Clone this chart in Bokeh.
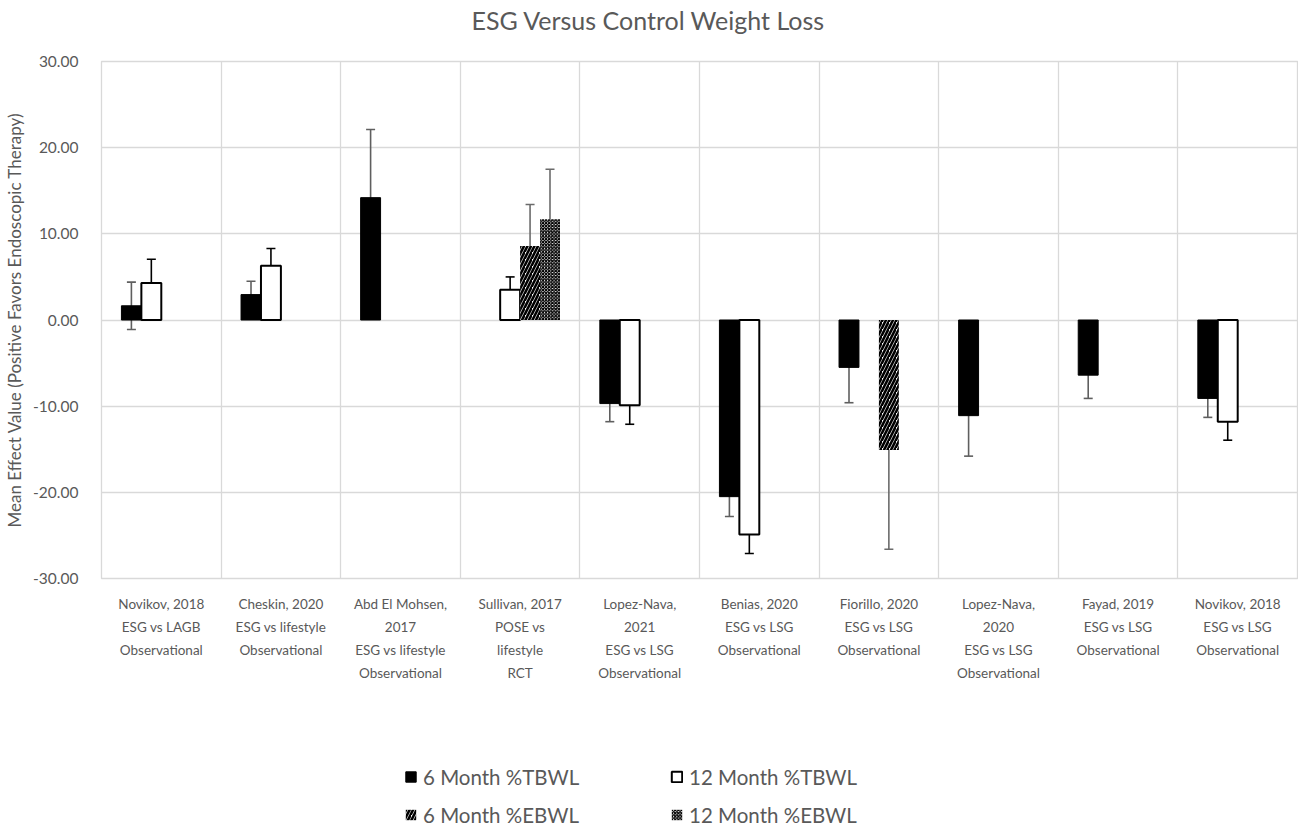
import numpy as np
from bokeh.plotting import figure
from bokeh.layouts import column
from bokeh.models import (Range1d, FixedTicker, NumeralTickFormatter, ColumnDataSource,
                          Whisker, TeeHead, Legend, LegendItem, Title)
from bokeh.embed import file_html
from bokeh.resources import INLINE

FONT = "Lato"
GRAY = "#595959"

categories = [
    "Novikov, 2018\nESG vs LAGB\nObservational",
    "Cheskin, 2020\nESG vs lifestyle\nObservational",
    "Abd El Mohsen,\n2017\nESG vs lifestyle\nObservational",
    "Sullivan, 2017\nPOSE vs\nlifestyle\nRCT",
    "Lopez-Nava,\n2021\nESG vs LSG\nObservational",
    "Benias, 2020\nESG vs LSG\nObservational",
    "Fiorillo, 2020\nESG vs LSG\nObservational",
    "Lopez-Nava,\n2020\nESG vs LSG\nObservational",
    "Fayad, 2019\nESG vs LSG\nObservational",
    "Novikov, 2018\nESG vs LSG\nObservational",
]

series_names = ["6 Month %TBWL", "12 Month %TBWL", "6 Month %EBWL", "12 Month %EBWL"]

tbwl_6 = [1.65, 2.95, 14.2, None, -9.7, -20.5, -5.5, -11.1, -6.4, -9.1]
tbwl_6_err = [2.75, 1.55, 7.9, None, 2.1, 2.3, 4.1, 4.7, 2.7, 2.2]
tbwl_12 = [4.3, 6.3, None, 3.5, -9.9, -24.9, None, None, None, -11.8]
tbwl_12_err = [2.75, 2.0, None, 1.5, 2.2, 2.2, None, None, None, 2.15]
ebwl_6 = [None, None, None, 8.6, None, None, -15.1, None, None, None]
ebwl_6_err = [None, None, None, 4.8, None, None, 11.5, None, None, None]
ebwl_12 = [None, None, None, 11.7, None, None, None, None, None, None]
ebwl_12_err = [None, None, None, 5.8, None, None, None, None, None, None]

values = [tbwl_6, tbwl_12, ebwl_6, ebwl_12]
errors = [tbwl_6_err, tbwl_12_err, ebwl_6_err, ebwl_12_err]
y_ticks = [-30, -20, -10, 0, 10, 20, 30]

n = len(categories)
bar_w = 1.0 / 6.0
offsets = [-1.5 * bar_w, -0.5 * bar_w, 0.5 * bar_w, 1.5 * bar_w]

W = 1298
p = figure(width=W, height=745, x_range=Range1d(0, n), y_range=Range1d(-30, 30),
           output_backend="svg", toolbar_location=None,
           min_border_left=101, min_border_right=1, min_border_top=61, min_border_bottom=167)

p.title.text = "ESG Versus Control Weight Loss"
p.title.text_font = FONT
p.title.text_font_size = "25px"
p.title.text_font_style = "normal"
p.title.text_color = GRAY
p.title.align = "left"
p.title.offset = 370
p.title.standoff = 0
# empty spacer between the title and the plot area
p.add_layout(Title(text=" ", text_font_size="14px", standoff=9), "above")

p.outline_line_color = "#d9d9d9"
p.outline_line_width = 1.3
p.background_fill_color = "white"

p.xgrid.ticker = FixedTicker(ticks=list(range(n + 1)))
p.ygrid.ticker = FixedTicker(ticks=y_ticks)
for g in (p.xgrid, p.ygrid):
    g.grid_line_color = "#d9d9d9"
    g.grid_line_width = 1.3

p.xaxis.ticker = FixedTicker(ticks=[i + 0.5 for i in range(n)])
p.xaxis.major_label_overrides = {i + 0.5: c for i, c in enumerate(categories)}
p.yaxis.ticker = FixedTicker(ticks=y_ticks)
p.yaxis.formatter = NumeralTickFormatter(format="0.00")
p.yaxis.axis_label = "Mean Effect Value (Positive Favors Endoscopic Therapy)"
for ax in (p.xaxis[0], p.yaxis[0]):
    ax.axis_line_color = None
    ax.major_tick_line_color = None
    ax.minor_tick_line_color = None
    ax.major_label_text_font = FONT
    ax.major_label_text_color = GRAY
p.xaxis.major_label_text_font_size = "13.5px"
p.yaxis.major_label_text_font_size = "15.5px"
p.xaxis.major_label_standoff = 11
p.xaxis.major_label_text_line_height = 1.45
p.yaxis.major_label_standoff = 17
p.yaxis.axis_label_text_font = FONT
p.yaxis.axis_label_text_font_size = "17px"
p.yaxis.axis_label_text_font_style = "normal"
p.yaxis.axis_label_text_color = GRAY
p.yaxis.axis_label_standoff = 5

styles = [
    dict(fill_color="black", line_color="black", line_width=1),
    dict(fill_color="white", line_color="black", line_width=2),
    dict(fill_color="white", line_color=None, hatch_pattern="right_diagonal_line",
         hatch_color="black", hatch_scale=7, hatch_weight=2.6),
    dict(fill_color="white", line_color=None, hatch_pattern="diagonal_cross",
         hatch_color="black", hatch_scale=3.2, hatch_weight=1.3),
]
err_colors = ["#5f5f5f", "black", "#6b6b6b", "#6b6b6b"]

# legend figure (below the chart)
lg = figure(width=W, height=83, x_range=Range1d(0, 1), y_range=Range1d(0, 1),
            output_backend="svg", toolbar_location=None,
            x_axis_location=None, y_axis_location=None, min_border=0)
lg.xgrid.visible = False
lg.ygrid.visible = False
lg.outline_line_color = None

items = {}
for k in range(4):
    xs, tops, lows, ups = [], [], [], []
    for i in range(n):
        v = values[k][i]
        if v is None:
            continue
        e = errors[k][i]
        xs.append(i + 0.5 + offsets[k])
        tops.append(v)
        lows.append(v - e)
        ups.append(v + e)
    src = ColumnDataSource(dict(x=xs, top=tops, lower=lows, upper=ups))
    p.vbar(x="x", top="top", bottom=0, width=bar_w, source=src, **styles[k])
    w = Whisker(source=src, base="x", upper="upper", lower="lower", dimension="height",
                line_color=err_colors[k], line_width=1.6,
                upper_head=TeeHead(size=9, line_color=err_colors[k], line_width=1.6),
                lower_head=TeeHead(size=9, line_color=err_colors[k], line_width=1.6))
    p.add_layout(w)
    # legend swatch glyph (no drawable data, only used by the legend)
    r = lg.vbar(x=np.array([np.nan]), top=np.array([np.nan]), bottom=0, width=0.1, **styles[k])
    items[k] = LegendItem(label=series_names[k], renderers=[r])

# legend fills column by column: row 1 = TBWL, row 2 = EBWL
legend = Legend(items=[items[0], items[2], items[1], items[3]], ncols=2, location=(303, 0),
                label_text_font=FONT, label_text_font_size="20.5px", label_text_color=GRAY,
                glyph_width=13, glyph_height=13, label_width=236, label_height=27,
                spacing=11, padding=0, label_standoff=6,
                border_line_color=None, background_fill_alpha=0)
lg.add_layout(legend, "center")

layout = column(p, lg, spacing=0)
open("out.html", "w").write(file_html(layout, INLINE))
